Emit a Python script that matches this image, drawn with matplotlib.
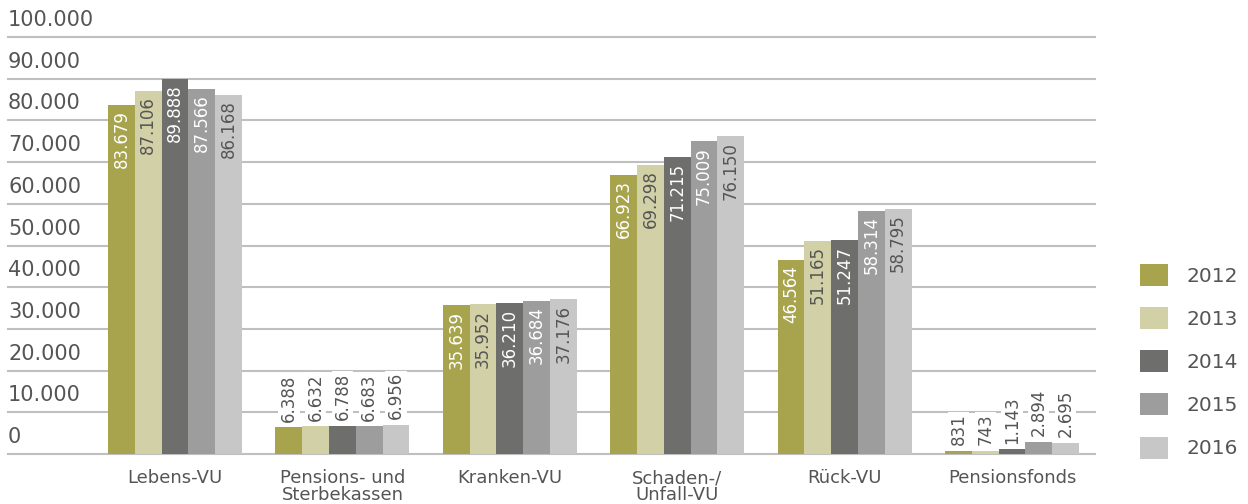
import matplotlib.pyplot as plt
from matplotlib.transforms import blended_transform_factory, offset_copy
import numpy as np

# Bestand nach VU-Sparte, 2012-2016
categories = ["Lebens-VU", "Pensions- und\nSterbekassen", "Kranken-VU",
              "Schaden-/\nUnfall-VU", "Rück-VU", "Pensionsfonds"]
years = ["2012", "2013", "2014", "2015", "2016"]
values = {
    "2012": [83679, 6388, 35639, 66923, 46564, 831],
    "2013": [87106, 6632, 35952, 69298, 51165, 743],
    "2014": [89888, 6788, 36210, 71215, 51247, 1143],
    "2015": [87566, 6683, 36684, 75009, 58314, 2894],
    "2016": [86168, 6956, 37176, 76150, 58795, 2695],
}
yticks = [0, 10000, 20000, 30000, 40000, 50000, 60000, 70000, 80000, 90000, 100000]

colors = ["#a8a44e", "#d2d0a6", "#6e6e6c", "#9c9d9c", "#c6c7c6"]
label_colors = ["white", "#555555", "white", "white", "#555555"]
text_col = "#555555"


def fmt(v):
    return f"{v:,}".replace(",", ".")


fig = plt.figure(figsize=(12.48, 5.04), dpi=100)
ax = fig.add_axes([8 / 1248, 50 / 504, 1087 / 1248, 417 / 504])

x = np.arange(len(categories))
w = 0.16

# gridlines + labels above the lines
for t in yticks:
    ax.axhline(t, color="#bfbfbf", lw=1.5, zorder=0, clip_on=False)
trans = offset_copy(blended_transform_factory(ax.transAxes, ax.transData),
                    fig=fig, x=0, y=5, units="points")
for t in yticks:
    lab = fmt(t) if t else "0"
    ax.text(0, t, lab, transform=trans, ha="left", va="bottom",
            fontsize=15, color=text_col)

bars = []
for i, yr in enumerate(years):
    xs = x + (i - 2) * w
    vals = values[yr]
    b = ax.bar(xs, vals, width=w, color=colors[i], zorder=2, linewidth=0)
    bars.append(b)
    for xx, v in zip(xs, vals):
        if v > 20000:
            ax.annotate(fmt(v), (xx, v), xytext=(0, -4), textcoords="offset points",
                        rotation=90, ha="center", va="top", fontsize=12,
                        color=label_colors[i], zorder=3)
        else:
            ax.annotate(fmt(v), (xx, v), xytext=(0, 4), textcoords="offset points",
                        rotation=90, ha="center", va="bottom", fontsize=12,
                        color=text_col, zorder=3,
                        bbox=dict(boxstyle="square,pad=0.1", fc="white", ec="none"))

ax.set_xlim(-0.998, 5.496)
ax.set_ylim(0, 100000)
ax.set_xticks(x)
ax.set_xticklabels(categories, fontsize=13, color=text_col, linespacing=0.9)
ax.tick_params(axis="x", length=0, pad=11)
ax.set_yticks([])
for s in ax.spines.values():
    s.set_visible(False)

leg = ax.legend(bars, years, loc="center left", bbox_to_anchor=(1140 / 1248, 0.283),
                bbox_transform=fig.transFigure, frameon=False, fontsize=14.5,
                handlelength=1.4, handleheight=1.3, handletextpad=0.9,
                labelspacing=1.05, borderpad=0, borderaxespad=0, labelcolor=text_col)

fig.savefig("out.png", dpi=100)
